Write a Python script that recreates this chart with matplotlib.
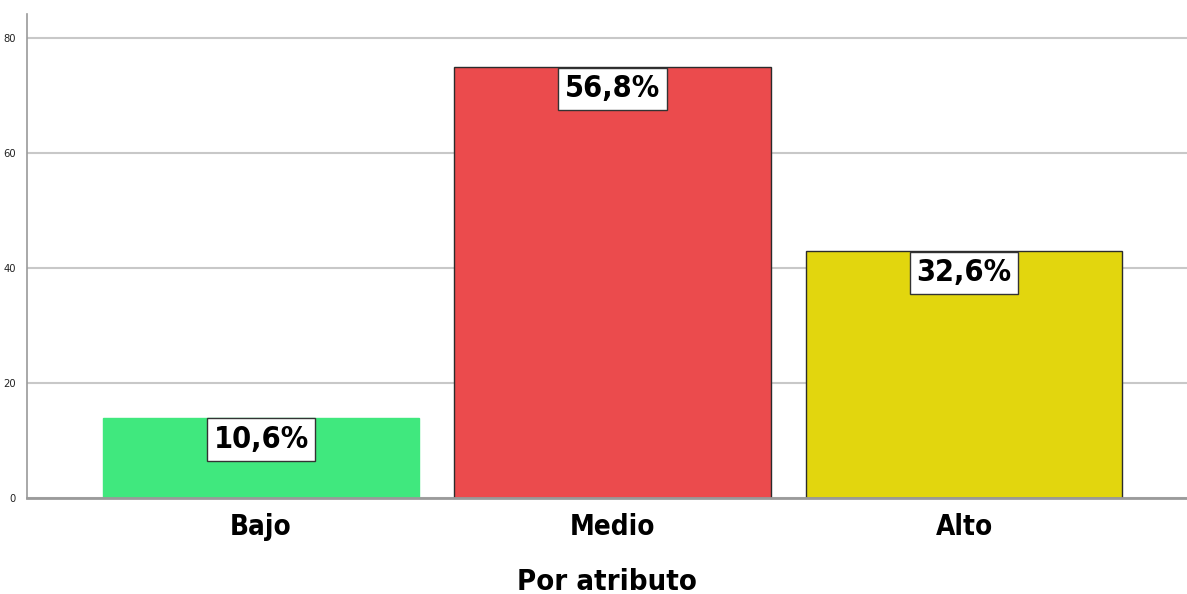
import matplotlib
matplotlib.use("Agg")
import matplotlib.pyplot as plt

categories = ["Bajo", "Medio", "Alto"]
counts = [14, 75, 43]
percent_labels = ["10,6%", "56,8%", "32,6%"]
bar_colors = ["#40E87E", "#EB4B4D", "#E2D60E"]
edge_colors = ["#40E87E", "#2b2b2b", "#2b2b2b"]
y_ticks = [0, 20, 40, 60, 80]

cond = dict(family="DejaVu Sans", stretch="condensed")

fig = plt.figure(figsize=(11.87, 5.94), dpi=100)
ax = fig.add_axes([27 / 1187, 1 - 498 / 594, (1187 - 27) / 1187, (498 - 14) / 594])

x = list(range(len(categories)))
ax.bar(x, counts, width=0.9, color=bar_colors, edgecolor=edge_colors,
       linewidth=1.0, zorder=3)

# value boxes hang from the top edge of each bar
label_size = 22
box_pad = 0.22
for xi, h, lab in zip(x, counts, percent_labels):
    ax.annotate(lab, xy=(xi, h), xytext=(0, -box_pad * label_size - 0.5),
                textcoords="offset points",
                ha="center", va="top", fontsize=label_size, fontweight="bold", zorder=5,
                bbox=dict(boxstyle=f"square,pad={box_pad}", fc="white", ec="#333333", lw=1.0),
                **cond)

ax.set_xlim(-0.666, 2.634)
ax.set_ylim(0, 84.2)
ax.set_yticks(y_ticks)
ax.set_yticklabels([str(t) for t in y_ticks], fontsize=8, color="#222222", **cond)
ax.set_xticks(x)
ax.set_xticklabels(categories, fontsize=20, fontweight="bold", **cond)
ax.tick_params(axis="y", length=0, pad=8)
ax.tick_params(axis="x", length=0, pad=11)
ax.yaxis.grid(True, color="#c8c8c8", linewidth=1.5, zorder=0)
ax.set_axisbelow(True)

for s in ["top", "right"]:
    ax.spines[s].set_visible(False)
ax.spines["left"].set_color("#9a9a9a")
ax.spines["left"].set_linewidth(1.2)
ax.spines["bottom"].set_color("#9a9a9a")
ax.spines["bottom"].set_linewidth(2.0)
ax.spines["bottom"].set_zorder(4)

ax.set_xlabel("Por atributo", fontsize=21, fontweight="bold", labelpad=19, **cond)

fig.savefig("out.png", dpi=100, facecolor="white")
